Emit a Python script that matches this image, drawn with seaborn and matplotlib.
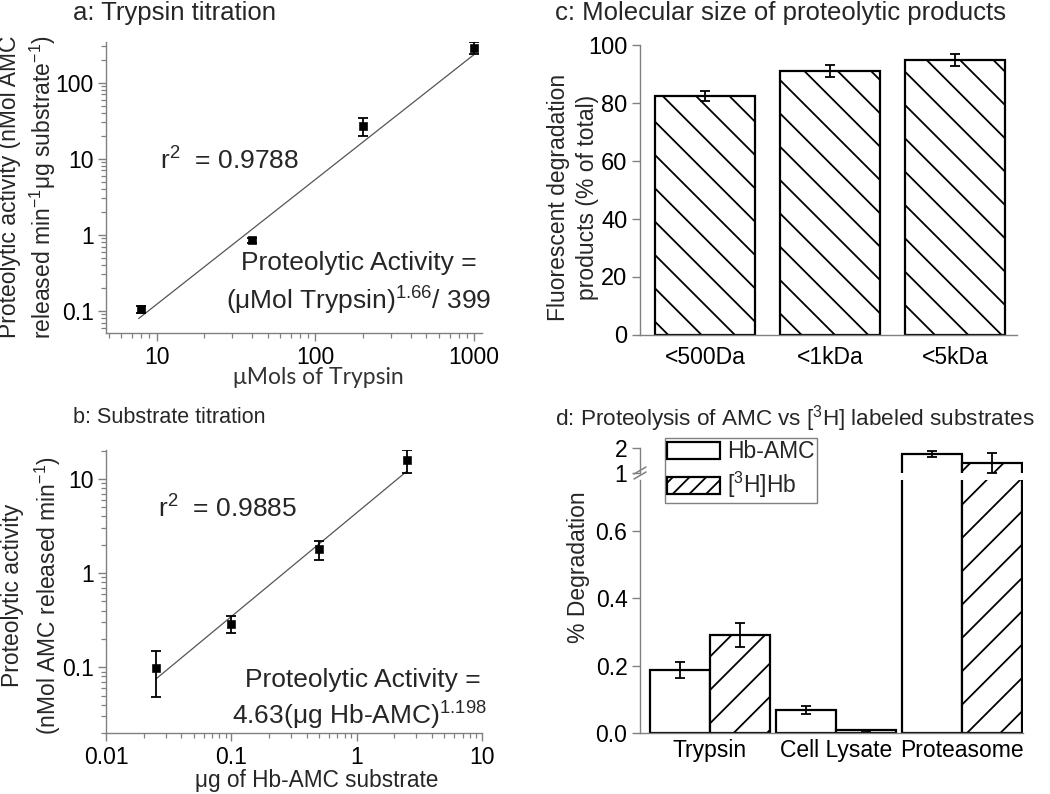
import numpy as np
import pandas as pd
import matplotlib
matplotlib.use("Agg")
import matplotlib.pyplot as plt
import seaborn as sns
from matplotlib.patches import Patch
from matplotlib.lines import Line2D
from matplotlib.ticker import LogLocator, NullFormatter, FixedLocator, FixedFormatter

# ---------------- data ----------------
# a: Trypsin titration
trypsin_umol = [8, 40, 200, 1000]
trypsin_activity = [0.105, 0.85, 27, 290]
trypsin_err = [0.012, 0.07, 7, 55]
trypsin_fit_x = [7.7, 1000]
trypsin_fit_y = [0.079, 235]

# b: Substrate titration
substrate_ug = [0.025, 0.1, 0.5, 2.5]
substrate_activity = [0.098, 0.29, 1.8, 15.9]
substrate_err = [0.05, 0.06, 0.42, 4.3]
substrate_fit_x = [0.025, 2.5]
substrate_fit_y = [0.075, 12]

# c: Molecular size of proteolytic products
size_labels = ["<500Da", "<1kDa", "<5kDa"]
size_values = [82.4, 91.0, 94.9]
size_err = [1.6, 2.0, 2.0]

# d: Proteolysis of AMC vs [3H] labeled substrates
enzymes = ["Trypsin", "Cell Lysate", "Proteasome"]
substrates = ["Hb-AMC", "[$^3$H]Hb"]
hb_amc = [0.187, 0.068, 1.75]
hb_amc_err = [0.025, 0.013, 0.12]
h3_hb = [0.29, 0.008, 1.40]
h3_hb_err = [0.035, 0.002, 0.40]

# ---------------- style ----------------
sns.set_theme(style="ticks")
plt.rcParams["font.family"] = ["Liberation Sans", "DejaVu Sans"]
plt.rcParams["mathtext.fontset"] = "custom"
plt.rcParams["mathtext.rm"] = "Liberation Sans"
plt.rcParams["mathtext.it"] = "Liberation Sans:italic"
plt.rcParams["mathtext.bf"] = "Liberation Sans:bold"
plt.rcParams["mathtext.default"] = "regular"
plt.rcParams["hatch.linewidth"] = 1.3
plt.rcParams["hatch.color"] = "black"

SPINE = "#808080"
fig = plt.figure(figsize=(10.5, 7.94), dpi=100)


def style_axis(ax, labelsize=16.5):
    for s in ["top", "right"]:
        ax.spines[s].set_visible(False)
    for s in ["left", "bottom"]:
        ax.spines[s].set_color(SPINE)
        ax.spines[s].set_linewidth(1.0)
    ax.tick_params(which="major", direction="out", length=6, width=1.0,
                   color=SPINE, labelsize=labelsize, labelcolor="black", pad=3)
    ax.tick_params(which="minor", direction="out", length=3.5, width=0.9,
                   color=SPINE)
    ax.set_xlabel("")
    ax.set_ylabel("")


def log_ticks(ax, axis, majors, labels):
    a = ax.xaxis if axis == "x" else ax.yaxis
    a.set_major_locator(FixedLocator(majors))
    a.set_major_formatter(FixedFormatter(labels))
    a.set_minor_locator(LogLocator(base=10, subs=np.arange(2, 10)))
    a.set_minor_formatter(NullFormatter())


# ---------------- panel a ----------------
ax_a = fig.add_axes([0.101, 0.5806, 0.358, 0.3665])
sns.lineplot(x=trypsin_fit_x, y=trypsin_fit_y, ax=ax_a, color="#555555", lw=0.9)
ax_a.errorbar(trypsin_umol, trypsin_activity, yerr=trypsin_err, fmt="none",
              ecolor="black", elinewidth=1.3, capsize=3.5, capthick=1.3, zorder=3)
sns.scatterplot(x=trypsin_umol, y=trypsin_activity, ax=ax_a, marker="s", s=34,
                color="black", edgecolor="black", zorder=4)
ax_a.set_xscale("log")
ax_a.set_yscale("log")
ax_a.set_xlim(4.8, 1120)
ax_a.set_ylim(0.051, 343)
style_axis(ax_a)
log_ticks(ax_a, "x", [10, 100, 1000], ["10", "100", "1000"])
log_ticks(ax_a, "y", [0.1, 1, 10, 100], ["0.1", "1", "10", "100"])
ax_a.text(0.144, 0.56, "r$^2$  = 0.9788", transform=ax_a.transAxes,
          fontsize=19, va="baseline", ha="left")
ax_a.text(0.673, 0.2165, "Proteolytic Activity =", transform=ax_a.transAxes,
          fontsize=19, va="baseline", ha="center")
ax_a.text(0.673, 0.079, "(\u03bcMol Trypsin)$^{1.66}$/ 399", transform=ax_a.transAxes,
          fontsize=19, va="baseline", ha="center")

# ---------------- panel b ----------------
ax_b = fig.add_axes([0.101, 0.0768, 0.358, 0.3564])
sns.lineplot(x=substrate_fit_x, y=substrate_fit_y, ax=ax_b, color="#555555", lw=0.9)
ax_b.errorbar(substrate_ug, substrate_activity, yerr=substrate_err, fmt="none",
              ecolor="black", elinewidth=1.3, capsize=3.5, capthick=1.3, zorder=3)
sns.scatterplot(x=substrate_ug, y=substrate_activity, ax=ax_b, marker="s", s=30,
                color="black", edgecolor="black", zorder=4)
ax_b.set_xscale("log")
ax_b.set_yscale("log")
ax_b.set_xlim(0.01, 10)
ax_b.set_ylim(0.02, 20.3)
style_axis(ax_b)
log_ticks(ax_b, "x", [0.01, 0.1, 1, 10], ["0.01", "0.1", "1", "10"])
log_ticks(ax_b, "y", [0.1, 1, 10], ["0.1", "1", "10"])
ax_b.text(0.138, 0.763, "r$^2$  = 0.9885", transform=ax_b.transAxes,
          fontsize=19, va="baseline", ha="left")
ax_b.text(0.683, 0.1625, "Proteolytic Activity =", transform=ax_b.transAxes,
          fontsize=19, va="baseline", ha="center")
ax_b.text(0.675, 0.028, "4.63(\u03bcg Hb-AMC)$^{1.198}$", transform=ax_b.transAxes,
          fontsize=19, va="baseline", ha="center")

# ---------------- panel c ----------------
ax_c = fig.add_axes([0.6095, 0.5781, 0.359, 0.3652])
df_c = pd.DataFrame({"size": size_labels, "value": size_values})
sns.barplot(data=df_c, x="size", y="value", ax=ax_c, color="white",
            edgecolor="black", linewidth=1.6, width=0.8, errorbar=None,
            saturation=1)
for p in ax_c.patches:
    p.set_hatch("\\")
    p.set_facecolor("white")
cx = [p.get_x() + p.get_width() / 2 for p in ax_c.patches]
ax_c.errorbar(cx, size_values, yerr=size_err, fmt="none", ecolor="black",
              elinewidth=1.3, capsize=3.5, capthick=1.3, zorder=3)
ax_c.set_xlim(-0.524, 2.496)
ax_c.set_ylim(0, 100)
ax_c.set_yticks([0, 20, 40, 60, 80, 100])
style_axis(ax_c, labelsize=17)
ax_c.tick_params(axis="x", length=0, pad=8, labelsize=16.5)

# ---------------- panel d ----------------
df_d = pd.DataFrame({
    "enzyme": enzymes * 2,
    "value": hb_amc + h3_hb,
    "substrate": [substrates[0]] * 3 + [substrates[1]] * 3,
})
err_d = [hb_amc_err, h3_hb_err]
val_d = [hb_amc, h3_hb]
ax_dt = fig.add_axes([0.6095, 0.4043, 0.3648, 0.0315])
ax_db = fig.add_axes([0.6095, 0.0768, 0.3648, 0.3186])
for ax in (ax_dt, ax_db):
    sns.barplot(data=df_d, x="enzyme", y="value", hue="substrate", ax=ax,
                palette=["white", "white"], edgecolor="black", linewidth=1.6,
                width=0.954, gap=0, errorbar=None, legend=False, saturation=1)
    bar_conts = list(ax.containers[:2])
    for bar in bar_conts[1]:
        bar.set_hatch("/")
    for i, cont in enumerate(bar_conts):
        xs = [b.get_x() + b.get_width() / 2 for b in cont]
        ax.errorbar(xs, val_d[i], yerr=err_d[i], fmt="none", ecolor="black",
                    elinewidth=1.3, capsize=3.5, capthick=1.3, zorder=3)
    ax.set_xlim(-0.556, 2.487)
    style_axis(ax, labelsize=16.5)

ax_dt.set_ylim(1, 2)
ax_dt.set_yticks([1, 2])
ax_dt.set_yticklabels(["1", "2"])
ax_dt.spines["bottom"].set_visible(False)
ax_dt.tick_params(axis="x", bottom=False, labelbottom=False)

ax_db.set_ylim(0, 0.75)
ax_db.set_yticks([0, 0.2, 0.4, 0.6])
ax_db.set_yticklabels(["0.0", "0.2", "0.4", "0.6"])
ax_db.tick_params(axis="x", length=0, pad=4, labelsize=16.5)

# axis break marks
for dy in (0, 5):
    fig.add_artist(Line2D([634 / 1050, 646 / 1050],
                          [1 - (479 + dy - 5) / 794, 1 - (472 + dy - 5) / 794],
                          transform=fig.transFigure, color=SPINE, lw=1.1))

handles = [Patch(facecolor="white", edgecolor="black", linewidth=1.6, label=substrates[0]),
           Patch(facecolor="white", edgecolor="black", linewidth=1.6, hatch="//",
                 label=substrates[1])]
leg = fig.legend(handles=handles, loc="upper left",
                 bbox_to_anchor=(665 / 1050, 1 - 438 / 794), fontsize=16.5,
                 frameon=True, fancybox=False, framealpha=1, edgecolor=SPINE,
                 borderpad=0.1, handlelength=2.3, handleheight=0.75,
                 handletextpad=0.3, labelspacing=0.3, borderaxespad=0)
leg.get_frame().set_linewidth(1.0)

# ---------------- titles and labels ----------------
fig.text(0.0695, 0.9748, "a: Trypsin titration", fontsize=18.5, va="baseline")
fig.text(0.0695, 0.4673, "b: Substrate titration", fontsize=15.5, va="baseline")
fig.text(0.5286, 0.9748, "c: Molecular size of proteolytic products", fontsize=18.5,
         va="baseline")
fig.text(0.5286, 0.4647, "d: Proteolysis of AMC vs [$^3$H] labeled substrates",
         fontsize=16.2, va="baseline")

fig.text(0.0267, 0.7645,
         "Proteolytic activity (nMol AMC\nreleased min$^{-1}$\u03bcg substrate$^{-1}$)",
         rotation=90, fontsize=16.5, ha="center", va="center", linespacing=1.3,
         multialignment="center")
fig.text(0.0305, 0.2506,
         "Proteolytic activity\n(nMol AMC released min$^{-1}$)",
         rotation=90, fontsize=16.5, ha="center", va="center", linespacing=1.35,
         multialignment="center")
fig.text(0.5457, 0.7519, "Fluorescent degradation\nproducts (% of total)",
         rotation=90, fontsize=16.5, ha="center", va="center", linespacing=1.3,
         multialignment="center")
fig.text(0.5505, 0.2859, "% Degradation", rotation=90, fontsize=16.5,
         ha="center", va="center")

fig.text(318 / 1050, 1 - 384 / 794, "\u03bcMols of Trypsin", fontsize=16.5,
         ha="center", va="baseline", family=["Lato", "DejaVu Sans"], color="#333333")
fig.text(317 / 1050, 1 - 787 / 794, "\u03bcg of Hb-AMC substrate", fontsize=16.3,
         ha="center", va="baseline")

fig.savefig("out.png", dpi=100)
